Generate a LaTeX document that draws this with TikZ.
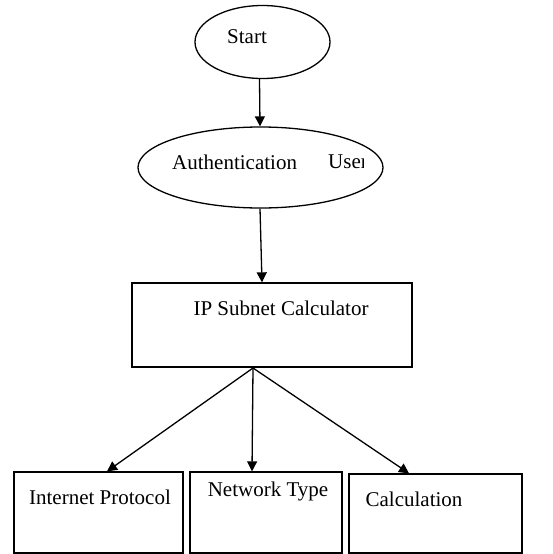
\documentclass[tikz,border=0pt]{standalone}
\usepackage{fontspec}
\setmainfont{Liberation Serif}
\usetikzlibrary{arrows.meta,shapes.geometric,calc}
\begin{document}
\begin{tikzpicture}[x=1pt,y=-1pt,
  shp/.style={draw=black,line width=1.3pt,inner sep=0pt},
  ell/.style={shp,ellipse},
  boxx/.style={shp,rectangle},
  txt/.style={inner sep=0pt,font=\fontsize{21}{24}\selectfont},
  arr/.style={line width=1.3pt,-{Triangle[length=10pt,width=10pt]}}]
\useasboundingbox (0,0) rectangle (553,554);
% shapes
\node[ell,minimum width=135pt,minimum height=73pt] (start) at (262.5,42) {};
\node[ell,minimum width=245pt,minimum height=81pt] (auth) at (260.5,167.5) {};
\node[boxx,minimum width=280pt,minimum height=84pt] (ip) at (272,325) {};
\node[boxx,minimum width=169pt,minimum height=81pt] (b1) at (98.5,512.5) {};
\node[boxx,minimum width=152pt,minimum height=81pt] (b2) at (266,512.5) {};
\node[boxx,minimum width=173pt,minimum height=79pt] (b3) at (435.5,513.5) {};
% texts
\node[txt] (tstart) at (247,37) {Start};
\node[txt,anchor=west] (tauth) at (172,162) {Authentication};
\begin{scope}
\clip (300,140) rectangle (363,185);
\node[txt,anchor=west] (tuser) at (328,162) {User};
\end{scope}
\node[txt] (tip) at (281,308) {IP Subnet Calculator};
\node[txt] (t1) at (100,497) {Internet Protocol};
\node[txt] (t2) at (268,491) {Network Type};
\node[txt] (t3) at (414,499) {Calculation};
% connectors
\coordinate (fork) at (253,368);
\draw[arr] ([xshift=-3pt]start.south) -- ([xshift=-0.5pt]auth.north);
\draw[arr] ([xshift=-0.5pt]auth.south) -- ([xshift=-10pt]ip.north);
\draw[arr] (fork) -- ([xshift=8.5pt]b1.north);
\draw[arr] (fork) -- ([xshift=-14pt]b2.north);
\draw[arr] (fork) -- ([xshift=-26.5pt]b3.north);
\end{tikzpicture}
\end{document}
